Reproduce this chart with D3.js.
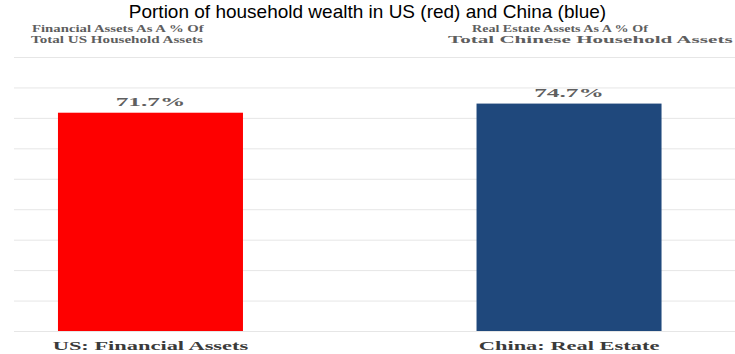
<!DOCTYPE html>
<html>
<head>
<meta charset="utf-8">
<script src="https://cdn.jsdelivr.net/npm/d3@7"></script>
<style>
  html, body { margin: 0; padding: 0; background: #ffffff; }
  svg { display: block; }
</style>
</head>
<body>
<svg id="chart" width="735" height="354"></svg>
<script>
// ---- data ----
const categories = ["US: Financial Assets", "China: Real Estate"];
const values = [71.7, 74.7];
const valueLabels = ["71.7%", "74.7%"];
const gridTicks = [0, 10, 20, 30, 40, 50, 60, 70, 80, 90];
const titleText = "Portion of household wealth in US (red) and China (blue)";
const leftSubtitle = ["Financial Assets As A % Of", "Total US Household Assets"];
const rightSubtitle = ["Real Estate Assets As A % Of", "Total Chinese Household Assets"];

// ---- styles / layout ----
const barColors = ["#fe0000", "#1f487c"];
const serif = "'Liberation Serif', 'Times New Roman', serif";
const W = 735, H = 354;

const svg = d3.select("#chart");

const x = d3.scaleBand()
  .domain(categories)
  .range([0, 719.5])
  .paddingInner(0.558)
  .paddingOuter(0.1385);

const y = d3.scaleLinear()
  .domain([0, 90])
  .range([331, 57]);

// gridlines
const yAxis = d3.axisLeft(y).tickValues(gridTicks).tickSize(-(W - 14)).tickFormat("");
const gAxis = svg.append("g").attr("transform", "translate(14,0)").call(yAxis);
gAxis.select(".domain").remove();
gAxis.selectAll(".tick line").attr("stroke", "#e6e6e6").attr("stroke-width", 1);

// helper: draw text stretched horizontally
function stretchedText(parent, txt, cx, baseline, size, sx, fill) {
  const g = parent.append("g").attr("transform", `translate(${cx},${baseline}) scale(${sx},1)`);
  return g.append("text")
    .attr("x", 0).attr("y", 0)
    .attr("text-anchor", "middle")
    .attr("font-family", serif)
    .attr("font-weight", "bold")
    .attr("font-size", size)
    .attr("fill", fill)
    .text(txt);
}
// helper: draw text starting at x and fitted to a width
function fittedText(parent, txt, x0, baseline, size, width, fill) {
  const g = parent.append("g");
  const t = g.append("text")
    .attr("x", 0).attr("y", 0)
    .attr("font-family", serif)
    .attr("font-weight", "bold")
    .attr("font-size", size)
    .attr("fill", fill)
    .text(txt);
  const len = t.node().getComputedTextLength();
  g.attr("transform", `translate(${x0},${baseline}) scale(${width / len},1)`);
  return t;
}

// bars
svg.append("g").selectAll("rect")
  .data(categories)
  .join("rect")
  .attr("x", d => x(d))
  .attr("width", x.bandwidth())
  .attr("y", (d, i) => y(values[i]))
  .attr("height", (d, i) => y(0) - y(values[i]))
  .attr("fill", (d, i) => barColors[i]);

// value labels
categories.forEach((c, i) => {
  stretchedText(svg, valueLabels[i], x(c) + x.bandwidth() / 2, y(values[i]) - 7, 13, 1.95, "#5f5f5f");
});

// category labels
categories.forEach((c, i) => {
  stretchedText(svg, c, x(c) + x.bandwidth() / 2, 350, 13.2, 1.7, "#3a3a3a");
});

// subtitles
const subSize = 10.5;
fittedText(svg, leftSubtitle[0], 32, 31.5, subSize, 172, "#5e5e5e");
fittedText(svg, leftSubtitle[1], 31, 42.5, subSize, 172, "#5e5e5e");
fittedText(svg, rightSubtitle[0], 472, 31.5, subSize, 176, "#5e5e5e");
fittedText(svg, rightSubtitle[1], 448, 42.5, subSize, 285, "#5e5e5e");

// title
svg.append("text")
  .attr("x", W / 2)
  .attr("y", 17.5)
  .attr("text-anchor", "middle")
  .attr("font-family", "'Liberation Sans', Arial, sans-serif")
  .attr("font-size", 19)
  .attr("fill", "#000")
  .text(titleText);
</script>
</body>
</html>
